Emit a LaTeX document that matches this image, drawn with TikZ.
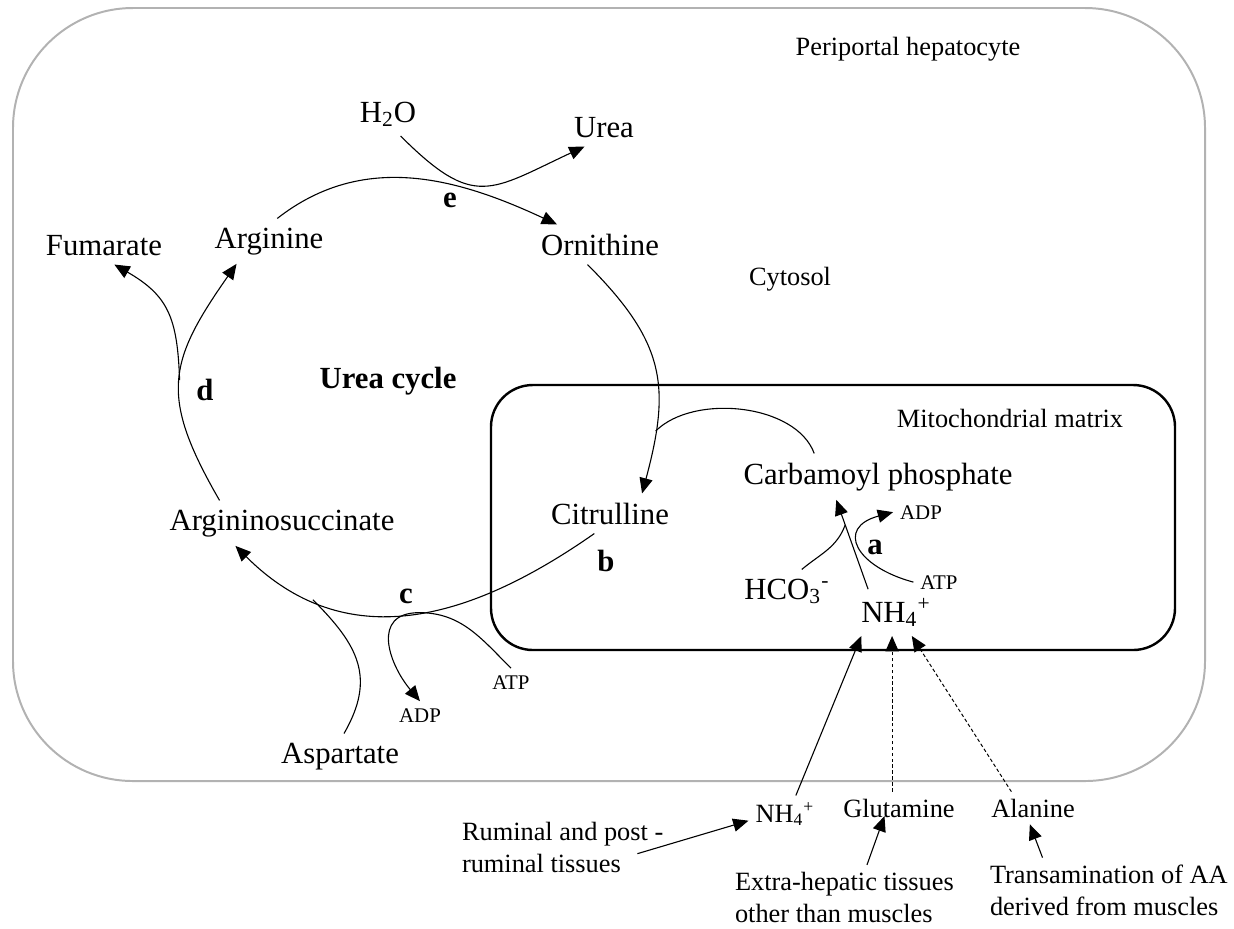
\documentclass[tikz,border=0pt]{standalone}
\usepackage{fontspec}
\setmainfont{Liberation Serif}
\usepackage{xcolor}
\usetikzlibrary{arrows.meta}
\definecolor{cellgrey}{RGB}{178,178,178}

\begin{document}
\begin{tikzpicture}[x=0.016cm, y=0.016cm,
	big/.style={font=\fontsize{14}{17}\selectfont, inner sep=4pt, anchor=base},
	mid/.style={font=\fontsize{12}{14.5}\selectfont, inner sep=3pt, anchor=base},
	small/.style={font=\fontsize{9.5}{11}\selectfont, inner sep=3pt, anchor=base},
	lab/.style={font=\fontsize{14}{17}\selectfont\bfseries, inner sep=0pt, anchor=base},
	react/.style={line width=0.5pt, -{Triangle[length=7pt,width=6pt]}},
	feed/.style={line width=0.5pt},
	supply/.style={line width=0.45pt, dash pattern=on 1.6pt off 1.1pt, -{Triangle[length=7pt,width=6pt]}}]
	\useasboundingbox (0,0) rectangle (1234,-928);
	\draw[line width=0.9pt, cellgrey, rounded corners=1.92cm] (13,-8) rectangle (1205,-781);
	\draw[line width=1.1pt, rounded corners=0.67cm] (491,-385) rectangle (1175,-650);

	\node (hep) [mid] at (908,-55) {Periportal hepatocyte};
	\node (water) [big] at (388,-122) {H\textsubscript{2}O};
	\node (urea) [big] at (604,-137) {Urea};
	\node (fum) [big] at (104,-255) {Fumarate};
	\node (arg) [big] at (269,-248) {Arginine};
	\node (orn) [big] at (600,-255) {Ornithine};
	\node (cyt) [mid] at (790,-285) {Cytosol};
	\node (cycle) [big, font=\fontsize{14}{17}\selectfont\bfseries] at (388,-388) {Urea cycle};
	\node (mito) [mid] at (1010,-427) {Mitochondrial matrix};
	\node (cp) [big] at (878,-484) {Carbamoyl phosphate};
	\node (cit) [big] at (610,-524) {Citrulline};
	\node (ags) [big] at (282,-530) {Argininosuccinate};
	\node (asp) [big] at (340,-763) {Aspartate};
	\node (hco) [big] at (787,-599) {HCO\textsubscript{3}\textsuperscript{-}};
	\node (nhin) [big] at (896,-622) {NH\textsubscript{4}\textsuperscript{+}};
	\node (adpa) [small] at (921,-519) {ADP};
	\node (atpa) [small] at (939,-589) {ATP};
	\node (atpc) [small] at (511,-689) {ATP};
	\node (adpc) [small] at (420,-722) {ADP};
	\node (la) [lab] at (875,-554) {a};
	\node (lb) [lab] at (606,-571) {b};
	\node (lc) [lab] at (406,-603) {c};
	\node (ld) [lab] at (205,-400) {d};
	\node (le) [lab] at (450,-207) {e};
	\node (nhout) [mid] at (785,-822) {NH\textsubscript{4}\textsuperscript{+}};
	\node (gln) [mid] at (899,-817) {Glutamine};
	\node (ala) [mid] at (1033,-817) {Alanine};
	\node (rum) [mid, align=left, anchor=base west] at (455,-872) {Ruminal and post -\\ruminal tissues};
	\node (extra) [mid, align=left, anchor=base west] at (728,-922) {Extra-hepatic tissues\\other than muscles};
	\node (trans) [mid, align=left, anchor=base west] at (983,-915) {Transamination of AA\\derived from muscles};

	\draw[react] (arg.70) to[out=38, in=155] (orn.155);
	\draw[react] (water.300) to[out=-45, in=205, looseness=1.45] (urea.225);
	\draw[react] (ags.160) to[out=120, in=235, looseness=1.3] coordinate[pos=.5] (dfork) (arg.215);
	\draw[react] (dfork) to[out=92, in=-30, looseness=1.2] (fum.298);
	\draw[react] (cit.232) to[out=215, in=-45, looseness=1.1] coordinate[pos=.47] (cfork) coordinate[pos=.77] (aspin) (ags.206);
	\draw[feed] (asp.80) to[out=60, in=-45, looseness=1.2] (aspin);
	\draw[react] (atpc.north) to[out=135, in=0] (cfork) to[out=180, in=130, looseness=1.4] (adpc.north);
	\draw[react] (orn.238) to[out=-45, in=75, looseness=1.2] coordinate[pos=.78] (citin) (cit.32);
	\draw[feed] (cp.160) to[out=110, in=45, looseness=.85] (citin);
	\draw[react] (nhin.140) -- coordinate[pos=.72] (cpin) ([xshift=-19pt]cp.south);
	\draw[feed] (hco.56) to[out=40, in=-110] (cpin);
	\draw[react] (atpa.west) to[out=165, in=195, looseness=2.1] (adpa.west);
	\draw[react] (nhout.60) -- (nhin.214);
	\draw[supply] (gln.113) -- (gln.113 |- nhin.south);
	\draw[supply] (ala.143) -- (nhin.304);
	\draw[react] ([xshift=-15pt,yshift=-3pt]rum.east) -- (nhout.190);
	\draw[react, shorten >=-4pt] (extra.55) -- (gln.223);
	\draw[react] (trans.154) -- (ala.259);
\end{tikzpicture}
\end{document}
